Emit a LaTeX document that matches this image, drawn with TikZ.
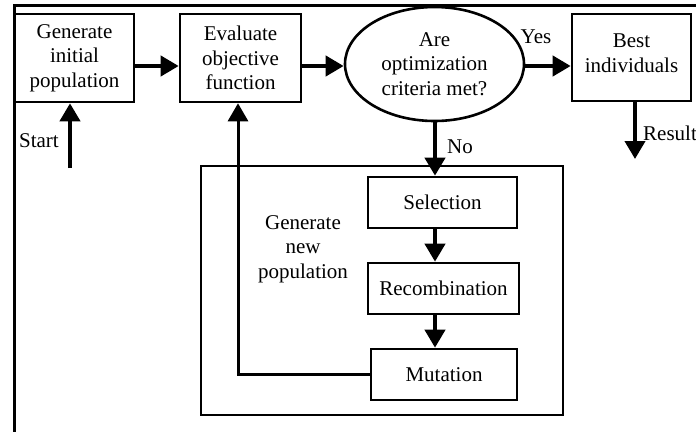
\documentclass[tikz,border=0pt]{standalone}
\usepackage{fontspec}
\setmainfont{Liberation Serif}
\usetikzlibrary{arrows.meta,shapes.geometric,calc}
\begin{document}
\begin{tikzpicture}[x=1pt,y=-1pt,
  every node/.style={font=\fontsize{21}{24.5}\selectfont},
  box/.style={draw,line width=2.6pt,inner sep=0pt,align=center},
  thin/.style={line width=2.4pt},
  flow/.style={line width=4pt,-{Triangle[length=18pt,width=20pt]}},
  loopflow/.style={line width=3pt,-{Triangle[length=18pt,width=20pt]}},
  lbl/.style={inner sep=0pt}]
\useasboundingbox (0,0) rectangle (696,432);
% frame
\draw[line width=3pt] (696,5) -- (14,5) -- (14,432);
% outer group box
\draw[thin] (201,166) rectangle (563,415);
% nodes
\node[box,minimum width=119pt,minimum height=88pt] (gen) at (74.5,58) {Generate\\initial\\population};
\node[box,minimum width=121pt,minimum height=88pt] (eval) at (240.5,58) {Evaluate\\objective\\function};
\node[draw,line width=2.6pt,ellipse,inner sep=0pt,minimum width=179pt,minimum height=114pt,align=center] (ell) at (434.5,64) {Are\\optimization\\criteria met?};
\node[box,minimum width=119pt,minimum height=87pt] (best) at (631.5,57.5) {};
\node[lbl,align=center] (besttxt) at (631.5,53) {Best\\individuals};
\node[box,minimum width=149pt,minimum height=51pt] (sel) at (442.5,202.5) {Selection};
\node[box,minimum width=151pt,minimum height=51pt] (rec) at (443.5,288.5) {Recombination};
\node[box,minimum width=146pt,minimum height=51pt] (mut) at (444,374.5) {Mutation};
\node[lbl,align=center] (gnp) at (303,249) {Generate\\new\\population};
% labels
\node[lbl,anchor=east] (start) at (59,141) {Start};
\node[lbl] (yes) at (536,37) {Yes};
\node[lbl] (no) at (460,147) {No};
\node[lbl,anchor=west] (result) at (643,133) {Result};
% coordinates
\coordinate (st) at (70,168);
\coordinate (res) at (635,159);
\coordinate (lp) at (238,374.5);
\coordinate (ax) at (435,0);
\coordinate (row) at (0,66);
% connectors
\draw[flow] (st) -- (st |- gen.south);
\draw[flow] (gen.east |- row) -- (eval.west |- row);
\draw[flow] (eval.east |- row) -- (ell.west |- row);
\draw[flow] (ell.east |- row) -- (best.west |- row);
\draw[flow] (res |- best.south) -- (res);
\draw[flow] (ax |- ell.south) -- (ax |- sel.north);
\draw[flow] (ax |- sel.south) -- (ax |- rec.north);
\draw[flow] (ax |- rec.south) -- (ax |- mut.north);
\draw[loopflow] (mut.west) -- (lp) -- (lp |- eval.south);
\end{tikzpicture}
\end{document}
